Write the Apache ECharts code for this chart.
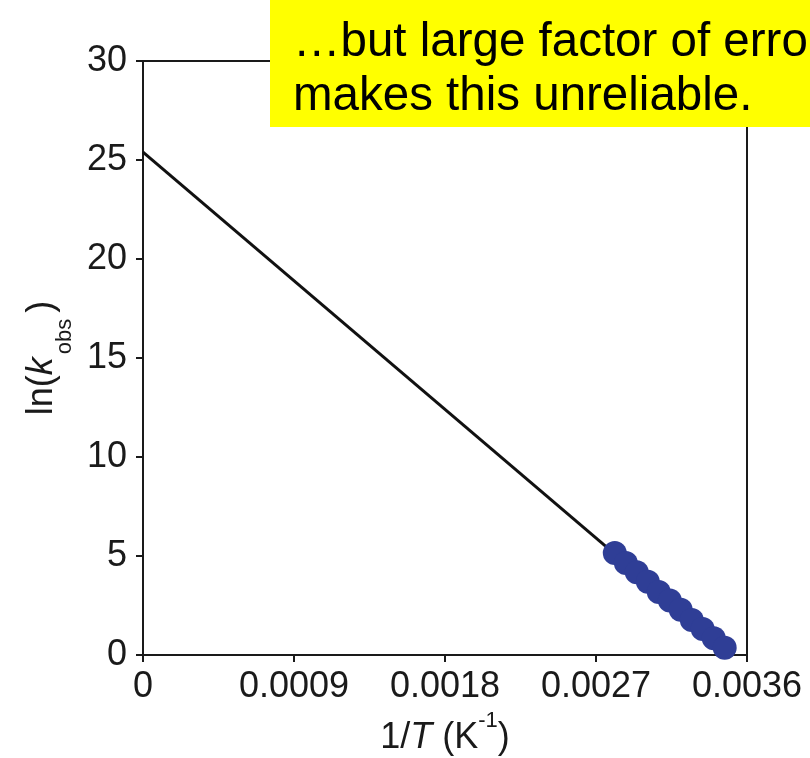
<!DOCTYPE html>
<html>
<head>
<meta charset="utf-8">
<script src="https://cdn.jsdelivr.net/npm/echarts@6/dist/echarts.min.js"></script>
<style>
  html, body { margin: 0; padding: 0; background: #fff; }
  #chart { width: 810px; height: 758px; }
</style>
</head>
<body>
<div id="chart"></div>
<script>
// Arrhenius plot: ln(k_obs) against 1/T, with the fitted line extrapolated to 1/T = 0
const invT = [0.002812, 0.002878, 0.002943, 0.003009, 0.003074, 0.003140,
              0.003205, 0.003271, 0.003336, 0.003402, 0.003467];
const lnK  = [5.15, 4.65, 4.18, 3.70, 3.18, 2.75, 2.28, 1.77, 1.31, 0.85, 0.37];

// Ends of the least-squares line
const fitX = [0, 0.003467];
const fitY = [25.4, 0.37];

const xTickLabels = ['0', '0.0009', '0.0018', '0.0027', '0.0036'];
const yTickLabels = ['0', '5', '10', '15', '20', '25', '30'];

const noteLines = ['\u2026but large factor of error', 'makes this unreliable.'];

const FONT = '"Liberation Sans", Arial, Helvetica, sans-serif';
const INK = '#1a1a1a';

const chart = echarts.init(document.getElementById('chart'), null, { renderer: 'canvas' });

chart.setOption({
  backgroundColor: '#fff',
  animation: false,
  grid: {
    left: 143, top: 61, right: 63, bottom: 103,
    containLabel: false,
    outerBoundsMode: 'none',
    show: true, borderColor: INK, borderWidth: 2, backgroundColor: 'transparent'
  },
  xAxis: {
    type: 'value', min: 0, max: 0.0036, interval: 0.0009,
    splitLine: { show: false },
    axisLine: { show: true, onZero: false, lineStyle: { color: INK, width: 2 } },
    axisTick: { show: true, inside: false, length: 7, lineStyle: { color: INK, width: 2 } },
    axisLabel: {
      margin: 14, color: INK, fontFamily: FONT, fontSize: 36,
      formatter: (v, i) => xTickLabels[i]
    },
    name: '{a|1/}{i|T}{a| (K}{s|-1}{a|)}',
    nameLocation: 'middle',
    nameGap: 55,
    nameTextStyle: {
      fontFamily: FONT, color: INK,
      rich: {
        a: { fontSize: 36, fontFamily: FONT, color: INK, lineHeight: 36, padding: [10, 0, 0, 0], verticalAlign: 'top' },
        i: { fontSize: 36, fontFamily: FONT, color: INK, fontStyle: 'italic', lineHeight: 36, padding: [10, 0, 0, 0], verticalAlign: 'top' },
        s: { fontSize: 22, fontFamily: FONT, color: INK, lineHeight: 22, verticalAlign: 'top' }
      }
    }
  },
  yAxis: {
    type: 'value', min: 0, max: 30, interval: 5,
    splitLine: { show: false },
    axisLine: { show: true, onZero: false, lineStyle: { color: INK, width: 2 } },
    axisTick: { show: true, inside: false, length: 7, lineStyle: { color: INK, width: 2 } },
    axisLabel: {
      margin: 16, color: INK, fontFamily: FONT, fontSize: 36,
      formatter: (v, i) => yTickLabels[i]
    },
    name: '{a|ln(}{i|k}{s|obs}{a|)}',
    nameLocation: 'middle',
    nameRotate: 90,
    nameGap: 80,
    nameTextStyle: {
      fontFamily: FONT, color: INK,
      rich: {
        a: { fontSize: 36, fontFamily: FONT, color: INK, lineHeight: 36, verticalAlign: 'top' },
        i: { fontSize: 36, fontFamily: FONT, color: INK, fontStyle: 'italic', lineHeight: 36, verticalAlign: 'top', padding: [0, 3, 0, 0] },
        s: { fontSize: 22, fontFamily: FONT, color: INK, lineHeight: 22, padding: [30, 6, 0, 0], verticalAlign: 'top' }
      }
    }
  },
  series: [
    {
      type: 'line',
      data: fitX.map((x, i) => [x, fitY[i]]),
      showSymbol: false,
      lineStyle: { color: '#111', width: 3 },
      z: 2
    },
    {
      type: 'scatter',
      data: invT.map((x, i) => [x, lnK[i]]),
      symbol: 'circle',
      symbolSize: 24,
      itemStyle: { color: '#2f3e96', opacity: 1 },
      z: 3
    }
  ],
  graphic: [
    {
      type: 'rect', z: 100,
      shape: { x: 270, y: 0, width: 560, height: 127 },
      style: { fill: '#ffff00' }
    },
    {
      type: 'text', z: 101, left: 293, top: 19,
      style: { text: noteLines[0], fontFamily: FONT, fontSize: 47.5, fill: '#000' }
    },
    {
      type: 'text', z: 101, left: 293, top: 73,
      style: { text: noteLines[1], fontFamily: FONT, fontSize: 47.5, fill: '#000' }
    }
  ]
});
</script>
</body>
</html>
